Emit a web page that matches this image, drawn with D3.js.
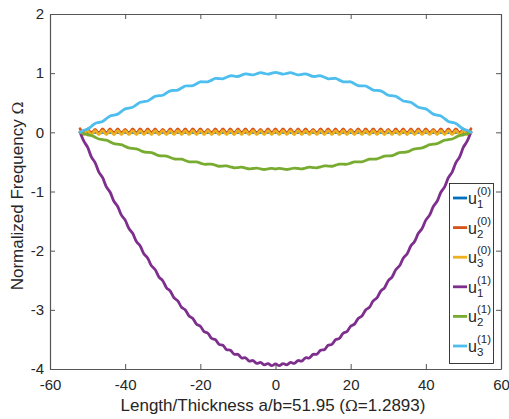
<!DOCTYPE html>
<html>
<head>
<meta charset="utf-8">
<script src="https://cdn.jsdelivr.net/npm/d3@7"></script>
<style>
  html, body { margin: 0; padding: 0; background: #fff; }
  svg { display: block; }
  text { font-family: "Liberation Sans", Arial, sans-serif; fill: #262626; }
</style>
</head>
<body>
<svg id="chart" width="509" height="419"></svg>
<script>
// Sample positions along the plate (length/thickness coordinate)
const xs = [
  -52,-51,-50,-49,-48,-47,-46,-45,-44,-43,-42,-41,-40,-39,-38,
  -37,-36,-35,-34,-33,-32,-31,-30,-29,-28,-27,-26,-25,-24,-23,
  -22,-21,-20,-19,-18,-17,-16,-15,-14,-13,-12,-11,-10,-9,-8,
  -7,-6,-5,-4,-3,-2,-1,0,1,2,3,4,5,6,7,
  8,9,10,11,12,13,14,15,16,17,18,19,20,21,22,
  23,24,25,26,27,28,29,30,31,32,33,34,35,36,37,
  38,39,40,41,42,43,44,45,46,47,48,49,50,51,52
];

// u1^(0)
const u1_0 = [
  0,0,0,0,0,0,0,0,0,0,0,0,0,0,0,
  0,0,0,0,0,0,0,0,0,0,0,0,0,0,0,
  0,0,0,0,0,0,0,0,0,0,0,0,0,0,0,
  0,0,0,0,0,0,0,0,0,0,0,0,0,0,0,
  0,0,0,0,0,0,0,0,0,0,0,0,0,0,0,
  0,0,0,0,0,0,0,0,0,0,0,0,0,0,0,
  0,0,0,0,0,0,0,0,0,0,0,0,0,0,0
];

// u2^(0)
const u2_0 = [
  0.06,-0.02,0.06,-0.02,0.05,-0.02,0.06,-0.02,0.06,-0.03,0.06,-0.02,0.05,-0.02,0.06,
  -0.02,0.06,-0.02,0.06,-0.02,0.06,-0.03,0.05,-0.02,0.06,-0.02,0.06,-0.02,0.06,-0.02,
  0.06,-0.02,0.06,-0.02,0.05,-0.02,0.06,-0.02,0.06,-0.02,0.06,-0.03,0.06,-0.02,0.06,
  -0.02,0.06,-0.02,0.05,-0.02,0.06,-0.02,0.06,-0.02,0.06,-0.02,0.06,-0.03,0.06,-0.02,
  0.06,-0.02,0.05,-0.02,0.06,-0.02,0.06,-0.02,0.06,-0.03,0.06,-0.02,0.05,-0.02,0.06,
  -0.02,0.06,-0.02,0.06,-0.02,0.06,-0.02,0.05,-0.02,0.06,-0.02,0.06,-0.03,0.06,-0.02,
  0.06,-0.02,0.06,-0.02,0.05,-0.02,0.06,-0.02,0.06,-0.02,0.06,-0.02,0.06,-0.02,0.06
];

// u3^(0)
const u3_0 = [
  0,-0.04,0.03,-0.04,0.03,-0.04,0.03,-0.04,0.03,-0.04,0.03,-0.04,0.03,-0.04,0.03,
  -0.04,0.03,-0.04,0.03,-0.04,0.03,-0.04,0.03,-0.04,0.03,-0.04,0.03,-0.04,0.03,-0.04,
  0.03,-0.04,0.03,-0.04,0.03,-0.04,0.03,-0.04,0.03,-0.04,0.03,-0.04,0.03,-0.04,0.03,
  -0.04,0.03,-0.04,0.03,-0.04,0.03,-0.04,0.03,-0.04,0.03,-0.04,0.03,-0.04,0.03,-0.04,
  0.03,-0.04,0.03,-0.04,0.03,-0.04,0.03,-0.04,0.03,-0.04,0.03,-0.04,0.03,-0.04,0.03,
  -0.04,0.03,-0.04,0.03,-0.04,0.03,-0.04,0.03,-0.04,0.03,-0.04,0.03,-0.04,0.03,-0.04,
  0.03,-0.04,0.03,-0.04,0.03,-0.04,0.03,-0.04,0.03,-0.04,0.03,-0.04,0.03,-0.04,0
];

// u1^(1)
const u1_1 = [
  0,-0.149,-0.252,-0.413,-0.512,-0.671,-0.767,-0.921,-1.013,-1.164,-1.253,-1.400,-1.484,-1.627,-1.707,
  -1.846,-1.922,-2.055,-2.127,-2.256,-2.322,-2.446,-2.508,-2.627,-2.683,-2.797,-2.848,-2.957,-3.002,-3.105,
  -3.145,-3.242,-3.277,-3.368,-3.396,-3.482,-3.504,-3.583,-3.599,-3.673,-3.683,-3.750,-3.753,-3.814,-3.811,
  -3.866,-3.857,-3.905,-3.889,-3.930,-3.909,-3.943,-3.915,-3.943,-3.909,-3.930,-3.889,-3.905,-3.857,-3.866,
  -3.811,-3.814,-3.753,-3.750,-3.683,-3.673,-3.599,-3.583,-3.504,-3.482,-3.396,-3.368,-3.277,-3.242,-3.145,
  -3.105,-3.002,-2.957,-2.848,-2.797,-2.683,-2.627,-2.508,-2.446,-2.322,-2.256,-2.127,-2.055,-1.922,-1.846,
  -1.707,-1.627,-1.484,-1.400,-1.253,-1.164,-1.013,-0.921,-0.767,-0.671,-0.512,-0.413,-0.252,-0.149,0
];

// u2^(1)
const u2_1 = [
  0,-0.021,-0.042,-0.053,-0.083,-0.113,-0.123,-0.133,-0.162,-0.191,-0.200,-0.208,-0.237,-0.264,-0.272,
  -0.279,-0.306,-0.332,-0.338,-0.344,-0.369,-0.394,-0.398,-0.402,-0.426,-0.449,-0.452,-0.454,-0.476,-0.498,
  -0.499,-0.499,-0.519,-0.539,-0.538,-0.537,-0.555,-0.573,-0.570,-0.567,-0.583,-0.599,-0.595,-0.589,-0.604,
  -0.617,-0.611,-0.604,-0.616,-0.628,-0.619,-0.610,-0.620,-0.610,-0.619,-0.628,-0.616,-0.604,-0.611,-0.617,
  -0.604,-0.589,-0.595,-0.599,-0.583,-0.567,-0.570,-0.573,-0.555,-0.537,-0.538,-0.539,-0.519,-0.499,-0.499,
  -0.498,-0.476,-0.454,-0.452,-0.449,-0.426,-0.402,-0.398,-0.394,-0.369,-0.344,-0.338,-0.332,-0.306,-0.279,
  -0.272,-0.264,-0.237,-0.208,-0.200,-0.191,-0.162,-0.133,-0.123,-0.113,-0.083,-0.053,-0.042,-0.021,0
];

// u3^(1)
const u3_1 = [
  0,0.034,0.053,0.101,0.149,0.167,0.184,0.231,0.277,0.292,0.308,0.352,0.397,0.410,0.423,
  0.466,0.508,0.519,0.530,0.570,0.610,0.619,0.627,0.665,0.702,0.708,0.714,0.749,0.783,0.786,
  0.789,0.821,0.853,0.853,0.853,0.882,0.910,0.908,0.905,0.931,0.956,0.950,0.944,0.967,0.989,
  0.980,0.970,0.990,1.008,0.996,0.983,1.000,1.015,1.000,0.983,0.996,1.008,0.990,0.970,0.980,
  0.989,0.967,0.944,0.950,0.956,0.931,0.905,0.908,0.910,0.882,0.853,0.853,0.853,0.821,0.789,
  0.786,0.783,0.749,0.714,0.708,0.702,0.665,0.627,0.619,0.610,0.570,0.530,0.519,0.508,0.466,
  0.423,0.410,0.397,0.352,0.308,0.292,0.277,0.231,0.184,0.167,0.149,0.101,0.053,0.034,0
];

const xTicks = [-60, -40, -20, 0, 20, 40, 60];
const yTicks = [-4, -3, -2, -1, 0, 1, 2];

// Legend entries: displacement component u with subscript and superscript
const seriesNames = [
  { sub: "1", sup: "(0)" },
  { sub: "2", sup: "(0)" },
  { sub: "3", sup: "(0)" },
  { sub: "1", sup: "(1)" },
  { sub: "2", sup: "(1)" },
  { sub: "3", sup: "(1)" }
];
const seriesValues = [u1_0, u2_0, u3_0, u1_1, u2_1, u3_1];
const seriesColors = ["#0072BD", "#D95319", "#EDB120", "#7E2F8E", "#77AC30", "#4DBEEE"];

const svg = d3.select("#chart");
const L = 50, R = 501, T = 14, B = 369;

const x = d3.scaleLinear().domain([-60, 60]).range([L, R]);
const y = d3.scaleLinear().domain([-4, 2]).range([B, T]);

svg.append("rect").attr("x", 0).attr("y", 0).attr("width", 509).attr("height", 419).attr("fill", "#fff");

// Curves
const line = d3.line()
  .x(d => x(d[0]))
  .y(d => y(d[1]))
  .curve(d3.curveCatmullRom.alpha(0.5));

const plot = svg.append("g");
seriesValues.forEach((vals, i) => {
  const pts = xs.map((xv, j) => [xv, vals[j]]).filter(p => p[1] !== undefined);
  plot.append("path")
    .attr("d", line(pts))
    .attr("fill", "none")
    .attr("stroke", seriesColors[i])
    .attr("stroke-width", 2.8)
    .attr("stroke-linejoin", "round")
    .attr("stroke-linecap", "round");
});

// Axes box with inward ticks on all four sides
const axisColor = "#555";
const fmt = d => String(d);

const gx = svg.append("g").attr("transform", `translate(0,${B})`)
  .call(d3.axisBottom(x).tickValues(xTicks).tickFormat(fmt).tickSize(-5).tickSizeOuter(0).tickPadding(10));
const gy = svg.append("g").attr("transform", `translate(${L},0)`)
  .call(d3.axisLeft(y).tickValues(yTicks).tickFormat(fmt).tickSize(-5).tickSizeOuter(0).tickPadding(6));
const gt = svg.append("g").attr("transform", `translate(0,${T})`)
  .call(d3.axisTop(x).tickValues(xTicks).tickFormat("").tickSize(-5).tickSizeOuter(0));
const gr = svg.append("g").attr("transform", `translate(${R},0)`)
  .call(d3.axisRight(y).tickValues(yTicks).tickFormat("").tickSize(-5).tickSizeOuter(0));

[gx, gy, gt, gr].forEach(g => {
  g.selectAll(".domain").attr("stroke", axisColor).attr("stroke-width", 1.2);
  g.selectAll(".tick line").attr("stroke", axisColor).attr("stroke-width", 1);
  g.selectAll(".tick text")
    .attr("fill", "#262626")
    .style("font-family", '"Liberation Sans", Arial, sans-serif')
    .style("font-size", "15px");
});

// Axis titles
const serif = '"DejaVu Serif", "Liberation Serif", serif';
const xt = svg.append("text")
  .attr("x", 273).attr("y", 411)
  .attr("text-anchor", "middle")
  .style("font-size", "17px");
xt.append("tspan").text("Length/Thickness a/b=51.95 (");
xt.append("tspan").style("font-family", serif).style("font-size", "15.5px").text("Ω");
xt.append("tspan").text("=1.2893)");

const yt = svg.append("text")
  .attr("transform", "translate(23,196) rotate(-90)")
  .attr("text-anchor", "middle")
  .style("font-size", "17px");
yt.append("tspan").text("Normalized Frequency ");
yt.append("tspan").style("font-family", serif).style("font-size", "15.5px").text("Ω");

// Legend
const lg = svg.append("g");
lg.append("rect")
  .attr("x", 449.5).attr("y", 183.5)
  .attr("width", 44).attr("height", 180)
  .attr("fill", "#fff")
  .attr("stroke", "#262626")
  .attr("stroke-width", 0.9);

seriesNames.forEach((s, i) => {
  const cy = 198 + i * 29.6;
  lg.append("line")
    .attr("x1", 453).attr("x2", 467)
    .attr("y1", cy).attr("y2", cy)
    .attr("stroke", seriesColors[i])
    .attr("stroke-width", 2.8);
  lg.append("text").attr("x", 468).attr("y", cy + 6).style("font-size", "16px").text("u");
  lg.append("text").attr("x", 477).attr("y", cy - 3).style("font-size", "11.5px").text(s.sup);
  lg.append("text").attr("x", 477).attr("y", cy + 10).style("font-size", "11.5px").text(s.sub);
});
</script>
</body>
</html>
